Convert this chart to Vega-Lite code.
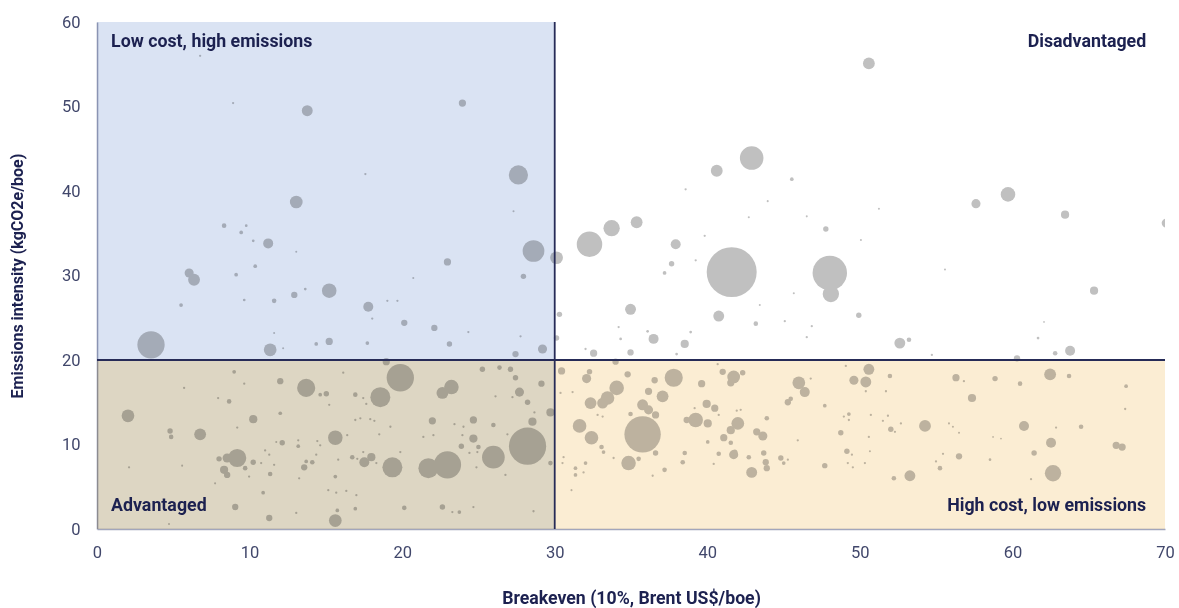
{
  "$schema": "https://vega.github.io/schema/vega-lite/v6.json",
  "autosize": {"type": "none"},
  "width": 1068,
  "height": 507,
  "padding": {"left": 97, "top": 22, "right": 14, "bottom": 79},
  "background": "white",
  "config": {
    "view": {"stroke": null},
    "font": "Roboto",
    "axis": {
      "grid": false,
      "ticks": false,
      "labelFlush": false,
      "domainColor": "#a2a6bc",
      "domainWidth": 1.6,
      "labelColor": "#41476b",
      "labelFont": "Roboto",
      "labelFontSize": 16.5,
      "titleColor": "#1c2150",
      "titleFont": "Roboto",
      "titleFontWeight": "bold"
    }
  },
  "datasets": {
    "fields": [
      {"breakeven": 6.76, "intensity": 56.0, "volume": 0.5},
      {"breakeven": 8.92, "intensity": 50.4, "volume": 0.5},
      {"breakeven": 13.78, "intensity": 49.5, "volume": 11.3},
      {"breakeven": 17.59, "intensity": 42.0, "volume": 0.5},
      {"breakeven": 13.06, "intensity": 38.7, "volume": 15.4},
      {"breakeven": 23.95, "intensity": 50.4, "volume": 5},
      {"breakeven": 27.62, "intensity": 41.9, "volume": 35},
      {"breakeven": 8.33, "intensity": 35.9, "volume": 2},
      {"breakeven": 9.45, "intensity": 35.1, "volume": 1.3},
      {"breakeven": 9.78, "intensity": 35.9, "volume": 0.7},
      {"breakeven": 10.24, "intensity": 34.1, "volume": 0.7},
      {"breakeven": 11.22, "intensity": 33.8, "volume": 9.5},
      {"breakeven": 13.06, "intensity": 32.8, "volume": 0.4},
      {"breakeven": 6.04, "intensity": 30.3, "volume": 7.9},
      {"breakeven": 6.36, "intensity": 29.5, "volume": 13.3},
      {"breakeven": 9.12, "intensity": 30.1, "volume": 1.3},
      {"breakeven": 10.37, "intensity": 31.1, "volume": 1.3},
      {"breakeven": 5.51, "intensity": 26.5, "volume": 1.3},
      {"breakeven": 9.65, "intensity": 27.1, "volume": 0.7},
      {"breakeven": 11.61, "intensity": 27.0, "volume": 2},
      {"breakeven": 12.93, "intensity": 27.7, "volume": 3.8},
      {"breakeven": 13.65, "intensity": 28.4, "volume": 0.7},
      {"breakeven": 15.22, "intensity": 28.2, "volume": 20.1},
      {"breakeven": 17.78, "intensity": 26.3, "volume": 9.5},
      {"breakeven": 19.03, "intensity": 27.0, "volume": 0.5},
      {"breakeven": 19.69, "intensity": 27.0, "volume": 0.5},
      {"breakeven": 18.04, "intensity": 24.9, "volume": 0.5},
      {"breakeven": 3.54, "intensity": 21.8, "volume": 71},
      {"breakeven": 11.35, "intensity": 21.2, "volume": 15.4},
      {"breakeven": 11.61, "intensity": 23.2, "volume": 0.4},
      {"breakeven": 12.2, "intensity": 21.4, "volume": 0.4},
      {"breakeven": 14.37, "intensity": 21.9, "volume": 1.3},
      {"breakeven": 15.22, "intensity": 22.2, "volume": 5},
      {"breakeven": 17.72, "intensity": 22.0, "volume": 1.3},
      {"breakeven": 18.96, "intensity": 19.8, "volume": 5},
      {"breakeven": 27.3, "intensity": 37.6, "volume": 0.4},
      {"breakeven": 22.97, "intensity": 31.6, "volume": 5},
      {"breakeven": 20.73, "intensity": 29.7, "volume": 0.4},
      {"breakeven": 28.61, "intensity": 32.9, "volume": 45},
      {"breakeven": 30.12, "intensity": 32.1, "volume": 15.4},
      {"breakeven": 27.95, "intensity": 29.9, "volume": 2.8},
      {"breakeven": 30.31, "intensity": 25.4, "volume": 2.8},
      {"breakeven": 30.12, "intensity": 22.6, "volume": 2.8},
      {"breakeven": 20.14, "intensity": 24.4, "volume": 3.8},
      {"breakeven": 22.11, "intensity": 23.8, "volume": 3.8},
      {"breakeven": 24.34, "intensity": 23.3, "volume": 0.5},
      {"breakeven": 23.1, "intensity": 21.9, "volume": 2.8},
      {"breakeven": 27.76, "intensity": 22.8, "volume": 0.5},
      {"breakeven": 27.43, "intensity": 20.7, "volume": 3.8},
      {"breakeven": 29.2, "intensity": 21.3, "volume": 7.9},
      {"breakeven": 32.28, "intensity": 33.7, "volume": 62},
      {"breakeven": 33.73, "intensity": 35.6, "volume": 25.4},
      {"breakeven": 35.37, "intensity": 36.3, "volume": 13.3},
      {"breakeven": 37.93, "intensity": 33.7, "volume": 9.5},
      {"breakeven": 37.66, "intensity": 31.4, "volume": 2.8},
      {"breakeven": 37.2, "intensity": 30.3, "volume": 1.3},
      {"breakeven": 39.83, "intensity": 34.7, "volume": 0.5},
      {"breakeven": 39.24, "intensity": 31.8, "volume": 0.5},
      {"breakeven": 42.72, "intensity": 36.9, "volume": 0.4},
      {"breakeven": 43.96, "intensity": 38.8, "volume": 0.4},
      {"breakeven": 41.6, "intensity": 30.4, "volume": 238},
      {"breakeven": 45.67, "intensity": 27.9, "volume": 0.4},
      {"breakeven": 43.44, "intensity": 26.5, "volume": 0.4},
      {"breakeven": 40.75, "intensity": 25.2, "volume": 11.3},
      {"breakeven": 43.18, "intensity": 24.3, "volume": 2},
      {"breakeven": 45.08, "intensity": 24.6, "volume": 0.5},
      {"breakeven": 34.97, "intensity": 26.0, "volume": 11.3},
      {"breakeven": 34.19, "intensity": 23.9, "volume": 0.5},
      {"breakeven": 36.09, "intensity": 23.4, "volume": 0.7},
      {"breakeven": 36.48, "intensity": 22.5, "volume": 9.5},
      {"breakeven": 34.32, "intensity": 22.5, "volume": 0.7},
      {"breakeven": 38.91, "intensity": 23.3, "volume": 0.7},
      {"breakeven": 38.52, "intensity": 21.9, "volume": 6.4},
      {"breakeven": 37.99, "intensity": 20.7, "volume": 0.7},
      {"breakeven": 34.97, "intensity": 20.9, "volume": 3.8},
      {"breakeven": 32.55, "intensity": 20.8, "volume": 5},
      {"breakeven": 32.02, "intensity": 21.3, "volume": 0.5},
      {"breakeven": 33.99, "intensity": 19.8, "volume": 3.8},
      {"breakeven": 40.62, "intensity": 42.4, "volume": 13.3},
      {"breakeven": 42.91, "intensity": 43.9, "volume": 53},
      {"breakeven": 45.54, "intensity": 41.4, "volume": 1.3},
      {"breakeven": 38.58, "intensity": 40.2, "volume": 0.5},
      {"breakeven": 50.59, "intensity": 55.1, "volume": 13.3},
      {"breakeven": 59.71, "intensity": 39.6, "volume": 20.1},
      {"breakeven": 57.61, "intensity": 38.5, "volume": 7.9},
      {"breakeven": 63.45, "intensity": 37.2, "volume": 6.4},
      {"breakeven": 70.08, "intensity": 36.2, "volume": 7.9},
      {"breakeven": 46.52, "intensity": 37.0, "volume": 0.4},
      {"breakeven": 51.25, "intensity": 37.9, "volume": 0.4},
      {"breakeven": 47.77, "intensity": 35.5, "volume": 2.8},
      {"breakeven": 50.07, "intensity": 34.2, "volume": 0.4},
      {"breakeven": 48.03, "intensity": 30.3, "volume": 113},
      {"breakeven": 48.1, "intensity": 27.8, "volume": 25.4},
      {"breakeven": 55.58, "intensity": 30.7, "volume": 0.4},
      {"breakeven": 65.35, "intensity": 28.2, "volume": 6.4},
      {"breakeven": 49.93, "intensity": 25.3, "volume": 2.8},
      {"breakeven": 46.85, "intensity": 24.0, "volume": 0.5},
      {"breakeven": 46.52, "intensity": 22.7, "volume": 0.5},
      {"breakeven": 52.62, "intensity": 22.0, "volume": 11.3},
      {"breakeven": 53.22, "intensity": 22.4, "volume": 2},
      {"breakeven": 54.72, "intensity": 20.6, "volume": 0.5},
      {"breakeven": 62.07, "intensity": 24.5, "volume": 0.3},
      {"breakeven": 61.68, "intensity": 22.6, "volume": 0.7},
      {"breakeven": 60.3, "intensity": 20.2, "volume": 3.8},
      {"breakeven": 62.8, "intensity": 20.8, "volume": 2},
      {"breakeven": 63.78, "intensity": 21.1, "volume": 9.5},
      {"breakeven": 8.99, "intensity": 18.6, "volume": 1.3},
      {"breakeven": 12.01, "intensity": 17.5, "volume": 3.8},
      {"breakeven": 13.71, "intensity": 16.7, "volume": 31.4},
      {"breakeven": 14.63, "intensity": 15.9, "volume": 1.3},
      {"breakeven": 15.03, "intensity": 16.0, "volume": 2.8},
      {"breakeven": 16.14, "intensity": 18.5, "volume": 0.5},
      {"breakeven": 16.93, "intensity": 15.9, "volume": 2},
      {"breakeven": 17.45, "intensity": 15.5, "volume": 0.5},
      {"breakeven": 17.65, "intensity": 14.8, "volume": 0.5},
      {"breakeven": 18.57, "intensity": 15.6, "volume": 38},
      {"breakeven": 19.88, "intensity": 17.9, "volume": 71},
      {"breakeven": 5.71, "intensity": 16.7, "volume": 0.5},
      {"breakeven": 9.65, "intensity": 17.2, "volume": 0.5},
      {"breakeven": 7.94, "intensity": 15.5, "volume": 0.5},
      {"breakeven": 8.66, "intensity": 15.1, "volume": 2},
      {"breakeven": 2.03, "intensity": 13.4, "volume": 15.4},
      {"breakeven": 10.24, "intensity": 13.0, "volume": 6.4},
      {"breakeven": 12.01, "intensity": 13.7, "volume": 1.3},
      {"breakeven": 9.19, "intensity": 12.0, "volume": 0.5},
      {"breakeven": 4.79, "intensity": 11.6, "volume": 2.8},
      {"breakeven": 4.86, "intensity": 10.9, "volume": 2},
      {"breakeven": 6.76, "intensity": 11.2, "volume": 13.3},
      {"breakeven": 15.22, "intensity": 14.7, "volume": 0.5},
      {"breakeven": 15.62, "intensity": 10.8, "volume": 20.1},
      {"breakeven": 16.93, "intensity": 12.9, "volume": 0.5},
      {"breakeven": 17.26, "intensity": 13.1, "volume": 0.5},
      {"breakeven": 17.91, "intensity": 13.0, "volume": 0.5},
      {"breakeven": 18.18, "intensity": 12.8, "volume": 0.5},
      {"breakeven": 19.23, "intensity": 12.1, "volume": 0.5},
      {"breakeven": 18.5, "intensity": 11.2, "volume": 0.5},
      {"breakeven": 9.19, "intensity": 8.4, "volume": 31.4},
      {"breakeven": 8.53, "intensity": 8.4, "volume": 7.9},
      {"breakeven": 8.0, "intensity": 8.3, "volume": 2.8},
      {"breakeven": 10.24, "intensity": 7.9, "volume": 2.8},
      {"breakeven": 8.33, "intensity": 7.0, "volume": 6.4},
      {"breakeven": 8.53, "intensity": 6.4, "volume": 3.8},
      {"breakeven": 9.71, "intensity": 7.2, "volume": 2},
      {"breakeven": 9.97, "intensity": 6.2, "volume": 0.5},
      {"breakeven": 10.76, "intensity": 7.8, "volume": 0.5},
      {"breakeven": 11.02, "intensity": 9.3, "volume": 0.5},
      {"breakeven": 11.29, "intensity": 8.8, "volume": 0.5},
      {"breakeven": 11.61, "intensity": 7.6, "volume": 0.5},
      {"breakeven": 11.35, "intensity": 6.5, "volume": 2},
      {"breakeven": 12.14, "intensity": 10.2, "volume": 2.8},
      {"breakeven": 11.75, "intensity": 10.3, "volume": 0.4},
      {"breakeven": 13.19, "intensity": 10.5, "volume": 0.5},
      {"breakeven": 13.19, "intensity": 9.8, "volume": 1.3},
      {"breakeven": 13.71, "intensity": 8.0, "volume": 1.3},
      {"breakeven": 14.11, "intensity": 7.9, "volume": 2},
      {"breakeven": 13.58, "intensity": 7.3, "volume": 3.8},
      {"breakeven": 13.25, "intensity": 6.0, "volume": 0.5},
      {"breakeven": 14.44, "intensity": 10.4, "volume": 0.5},
      {"breakeven": 14.63, "intensity": 9.9, "volume": 0.5},
      {"breakeven": 14.37, "intensity": 8.8, "volume": 0.5},
      {"breakeven": 16.4, "intensity": 11.1, "volume": 0.5},
      {"breakeven": 15.62, "intensity": 6.2, "volume": 1.3},
      {"breakeven": 15.81, "intensity": 8.2, "volume": 0.5},
      {"breakeven": 16.73, "intensity": 8.5, "volume": 2},
      {"breakeven": 17.06, "intensity": 8.3, "volume": 0.5},
      {"breakeven": 17.45, "intensity": 9.1, "volume": 0.5},
      {"breakeven": 17.52, "intensity": 7.9, "volume": 9.5},
      {"breakeven": 17.98, "intensity": 8.5, "volume": 6.4},
      {"breakeven": 18.31, "intensity": 7.8, "volume": 0.5},
      {"breakeven": 19.36, "intensity": 7.3, "volume": 38},
      {"breakeven": 2.1, "intensity": 7.3, "volume": 0.5},
      {"breakeven": 5.58, "intensity": 7.5, "volume": 0.4},
      {"breakeven": 7.74, "intensity": 5.4, "volume": 0.4},
      {"breakeven": 9.06, "intensity": 2.6, "volume": 3.8},
      {"breakeven": 10.89, "intensity": 4.3, "volume": 1.3},
      {"breakeven": 11.29, "intensity": 1.3, "volume": 3.8},
      {"breakeven": 13.06, "intensity": 1.9, "volume": 0.5},
      {"breakeven": 15.16, "intensity": 4.6, "volume": 0.5},
      {"breakeven": 15.68, "intensity": 4.3, "volume": 0.5},
      {"breakeven": 16.34, "intensity": 4.5, "volume": 0.5},
      {"breakeven": 17.0, "intensity": 4.0, "volume": 0.5},
      {"breakeven": 15.75, "intensity": 2.2, "volume": 1.3},
      {"breakeven": 16.93, "intensity": 2.4, "volume": 1.3},
      {"breakeven": 15.62, "intensity": 1.0, "volume": 15.4},
      {"breakeven": 4.72, "intensity": 0.6, "volume": 0.4},
      {"breakeven": 23.23, "intensity": 16.8, "volume": 20.1},
      {"breakeven": 22.64, "intensity": 16.1, "volume": 13.3},
      {"breakeven": 25.26, "intensity": 18.9, "volume": 2.8},
      {"breakeven": 26.38, "intensity": 19.1, "volume": 2},
      {"breakeven": 27.1, "intensity": 18.9, "volume": 2.8},
      {"breakeven": 27.43, "intensity": 17.9, "volume": 2.8},
      {"breakeven": 29.13, "intensity": 17.2, "volume": 3.8},
      {"breakeven": 27.69, "intensity": 16.2, "volume": 7.9},
      {"breakeven": 28.22, "intensity": 15.0, "volume": 2.8},
      {"breakeven": 26.12, "intensity": 15.7, "volume": 0.5},
      {"breakeven": 27.23, "intensity": 15.6, "volume": 0.5},
      {"breakeven": 29.72, "intensity": 13.8, "volume": 6.4},
      {"breakeven": 28.67, "intensity": 13.8, "volume": 0.5},
      {"breakeven": 28.54, "intensity": 12.7, "volume": 6.4},
      {"breakeven": 21.98, "intensity": 12.8, "volume": 5},
      {"breakeven": 23.43, "intensity": 12.4, "volume": 0.5},
      {"breakeven": 24.02, "intensity": 12.1, "volume": 0.5},
      {"breakeven": 24.67, "intensity": 12.9, "volume": 5},
      {"breakeven": 25.98, "intensity": 12.3, "volume": 2},
      {"breakeven": 28.22, "intensity": 9.8, "volume": 132},
      {"breakeven": 26.9, "intensity": 11.2, "volume": 0.5},
      {"breakeven": 24.67, "intensity": 10.7, "volume": 6.4},
      {"breakeven": 23.95, "intensity": 11.1, "volume": 0.5},
      {"breakeven": 23.88, "intensity": 9.8, "volume": 2.8},
      {"breakeven": 25.0, "intensity": 9.7, "volume": 2},
      {"breakeven": 24.93, "intensity": 9.1, "volume": 0.5},
      {"breakeven": 24.41, "intensity": 9.0, "volume": 0.5},
      {"breakeven": 25.98, "intensity": 8.5, "volume": 49},
      {"breakeven": 22.97, "intensity": 7.6, "volume": 71},
      {"breakeven": 21.72, "intensity": 7.2, "volume": 38},
      {"breakeven": 19.88, "intensity": 9.1, "volume": 0.5},
      {"breakeven": 21.39, "intensity": 10.9, "volume": 0.5},
      {"breakeven": 22.05, "intensity": 11.1, "volume": 0.5},
      {"breakeven": 24.87, "intensity": 7.3, "volume": 0.5},
      {"breakeven": 26.77, "intensity": 6.4, "volume": 0.5},
      {"breakeven": 29.72, "intensity": 7.8, "volume": 2},
      {"breakeven": 20.14, "intensity": 2.5, "volume": 2},
      {"breakeven": 22.64, "intensity": 2.6, "volume": 2.8},
      {"breakeven": 23.29, "intensity": 2.0, "volume": 0.5},
      {"breakeven": 23.75, "intensity": 2.0, "volume": 1.3},
      {"breakeven": 24.67, "intensity": 2.6, "volume": 0.5},
      {"breakeven": 28.61, "intensity": 2.1, "volume": 0.5},
      {"breakeven": 30.45, "intensity": 18.7, "volume": 5},
      {"breakeven": 30.38, "intensity": 16.1, "volume": 0.5},
      {"breakeven": 31.17, "intensity": 16.2, "volume": 0.5},
      {"breakeven": 32.28, "intensity": 18.6, "volume": 2.8},
      {"breakeven": 32.09, "intensity": 17.8, "volume": 7.9},
      {"breakeven": 34.06, "intensity": 16.7, "volume": 20.1},
      {"breakeven": 33.46, "intensity": 15.5, "volume": 17.7},
      {"breakeven": 32.35, "intensity": 14.9, "volume": 13.3},
      {"breakeven": 33.14, "intensity": 14.9, "volume": 11.3},
      {"breakeven": 34.78, "intensity": 18.3, "volume": 3.8},
      {"breakeven": 36.55, "intensity": 17.6, "volume": 3.8},
      {"breakeven": 36.15, "intensity": 16.3, "volume": 5},
      {"breakeven": 37.07, "intensity": 15.7, "volume": 13.3},
      {"breakeven": 37.8, "intensity": 17.9, "volume": 31.4},
      {"breakeven": 35.76, "intensity": 14.7, "volume": 11.3},
      {"breakeven": 35.76, "intensity": 11.2, "volume": 126},
      {"breakeven": 36.61, "intensity": 13.5, "volume": 5},
      {"breakeven": 34.97, "intensity": 13.6, "volume": 2},
      {"breakeven": 36.15, "intensity": 14.1, "volume": 7.9},
      {"breakeven": 32.81, "intensity": 13.5, "volume": 0.5},
      {"breakeven": 33.14, "intensity": 13.3, "volume": 0.5},
      {"breakeven": 31.63, "intensity": 12.2, "volume": 17.7},
      {"breakeven": 32.41, "intensity": 10.8, "volume": 17.7},
      {"breakeven": 33.07, "intensity": 9.7, "volume": 2},
      {"breakeven": 33.2, "intensity": 9.1, "volume": 1.3},
      {"breakeven": 33.86, "intensity": 8.4, "volume": 0.5},
      {"breakeven": 34.84, "intensity": 7.8, "volume": 20.1},
      {"breakeven": 35.5, "intensity": 8.3, "volume": 2},
      {"breakeven": 36.61, "intensity": 9.0, "volume": 2.8},
      {"breakeven": 37.2, "intensity": 7.0, "volume": 2},
      {"breakeven": 36.42, "intensity": 6.3, "volume": 0.5},
      {"breakeven": 38.65, "intensity": 12.9, "volume": 3.8},
      {"breakeven": 38.52, "intensity": 9.0, "volume": 2},
      {"breakeven": 38.39, "intensity": 7.9, "volume": 2},
      {"breakeven": 32.02, "intensity": 7.8, "volume": 1.3},
      {"breakeven": 31.36, "intensity": 7.2, "volume": 1.3},
      {"breakeven": 31.89, "intensity": 6.7, "volume": 0.5},
      {"breakeven": 31.36, "intensity": 6.4, "volume": 1.3},
      {"breakeven": 30.58, "intensity": 8.5, "volume": 0.5},
      {"breakeven": 30.51, "intensity": 7.8, "volume": 0.5},
      {"breakeven": 31.1, "intensity": 4.6, "volume": 0.4},
      {"breakeven": 39.63, "intensity": 17.2, "volume": 5},
      {"breakeven": 41.01, "intensity": 18.6, "volume": 3.8},
      {"breakeven": 41.73, "intensity": 18.0, "volume": 15.4},
      {"breakeven": 42.32, "intensity": 18.5, "volume": 2.8},
      {"breakeven": 41.54, "intensity": 17.3, "volume": 5},
      {"breakeven": 40.68, "intensity": 19.5, "volume": 0.5},
      {"breakeven": 46.0, "intensity": 17.3, "volume": 15.4},
      {"breakeven": 46.39, "intensity": 16.2, "volume": 9.5},
      {"breakeven": 46.78, "intensity": 17.8, "volume": 0.5},
      {"breakeven": 49.08, "intensity": 19.3, "volume": 0.5},
      {"breakeven": 50.59, "intensity": 18.9, "volume": 11.3},
      {"breakeven": 49.61, "intensity": 17.6, "volume": 7.9},
      {"breakeven": 50.39, "intensity": 17.4, "volume": 11.3},
      {"breakeven": 50.39, "intensity": 16.3, "volume": 0.5},
      {"breakeven": 51.97, "intensity": 18.1, "volume": 2},
      {"breakeven": 51.71, "intensity": 16.3, "volume": 0.5},
      {"breakeven": 56.3, "intensity": 17.9, "volume": 5},
      {"breakeven": 56.82, "intensity": 17.5, "volume": 0.5},
      {"breakeven": 57.35, "intensity": 15.5, "volume": 6.4},
      {"breakeven": 58.86, "intensity": 17.8, "volume": 2.8},
      {"breakeven": 60.5, "intensity": 17.2, "volume": 2},
      {"breakeven": 62.47, "intensity": 18.3, "volume": 13.3},
      {"breakeven": 63.71, "intensity": 18.1, "volume": 2},
      {"breakeven": 67.45, "intensity": 16.9, "volume": 1.3},
      {"breakeven": 67.39, "intensity": 14.2, "volume": 0.5},
      {"breakeven": 39.96, "intensity": 14.8, "volume": 6.4},
      {"breakeven": 40.49, "intensity": 14.3, "volume": 5},
      {"breakeven": 39.17, "intensity": 14.3, "volume": 0.5},
      {"breakeven": 39.24, "intensity": 12.9, "volume": 20.1},
      {"breakeven": 40.03, "intensity": 12.5, "volume": 6.4},
      {"breakeven": 40.75, "intensity": 13.5, "volume": 0.5},
      {"breakeven": 41.93, "intensity": 14.0, "volume": 0.5},
      {"breakeven": 42.19, "intensity": 14.1, "volume": 0.5},
      {"breakeven": 42.0, "intensity": 12.5, "volume": 15.4},
      {"breakeven": 41.54, "intensity": 11.7, "volume": 6.4},
      {"breakeven": 41.08, "intensity": 10.8, "volume": 5},
      {"breakeven": 41.54, "intensity": 10.2, "volume": 2},
      {"breakeven": 40.03, "intensity": 10.3, "volume": 1.3},
      {"breakeven": 43.24, "intensity": 11.5, "volume": 5},
      {"breakeven": 43.64, "intensity": 11.0, "volume": 7.9},
      {"breakeven": 43.9, "intensity": 13.1, "volume": 2},
      {"breakeven": 45.28, "intensity": 15.0, "volume": 3.8},
      {"breakeven": 45.47, "intensity": 15.4, "volume": 2},
      {"breakeven": 47.7, "intensity": 14.6, "volume": 1.3},
      {"breakeven": 45.93, "intensity": 10.5, "volume": 0.5},
      {"breakeven": 40.75, "intensity": 8.9, "volume": 2},
      {"breakeven": 40.42, "intensity": 7.7, "volume": 0.5},
      {"breakeven": 41.73, "intensity": 8.8, "volume": 7.9},
      {"breakeven": 41.8, "intensity": 9.1, "volume": 2.8},
      {"breakeven": 42.72, "intensity": 8.5, "volume": 2},
      {"breakeven": 42.91, "intensity": 6.7, "volume": 11.3},
      {"breakeven": 43.7, "intensity": 9.0, "volume": 2.8},
      {"breakeven": 43.83, "intensity": 7.9, "volume": 3.8},
      {"breakeven": 43.9, "intensity": 7.2, "volume": 3.8},
      {"breakeven": 44.82, "intensity": 8.4, "volume": 2.8},
      {"breakeven": 45.01, "intensity": 7.8, "volume": 1.3},
      {"breakeven": 45.28, "intensity": 8.2, "volume": 0.5},
      {"breakeven": 48.95, "intensity": 13.3, "volume": 0.5},
      {"breakeven": 49.28, "intensity": 13.6, "volume": 1.3},
      {"breakeven": 49.28, "intensity": 12.9, "volume": 0.5},
      {"breakeven": 50.72, "intensity": 13.5, "volume": 0.5},
      {"breakeven": 51.51, "intensity": 12.8, "volume": 0.5},
      {"breakeven": 51.84, "intensity": 13.4, "volume": 0.5},
      {"breakeven": 52.03, "intensity": 11.8, "volume": 2.8},
      {"breakeven": 52.3, "intensity": 11.5, "volume": 0.5},
      {"breakeven": 52.69, "intensity": 12.5, "volume": 0.5},
      {"breakeven": 54.27, "intensity": 12.2, "volume": 13.3},
      {"breakeven": 55.84, "intensity": 12.5, "volume": 0.4},
      {"breakeven": 56.1, "intensity": 12.1, "volume": 0.4},
      {"breakeven": 56.5, "intensity": 11.4, "volume": 0.4},
      {"breakeven": 48.75, "intensity": 11.4, "volume": 2.8},
      {"breakeven": 50.59, "intensity": 10.9, "volume": 0.5},
      {"breakeven": 49.15, "intensity": 9.2, "volume": 2.8},
      {"breakeven": 49.48, "intensity": 8.8, "volume": 0.5},
      {"breakeven": 47.7, "intensity": 7.5, "volume": 2.8},
      {"breakeven": 49.21, "intensity": 7.8, "volume": 0.5},
      {"breakeven": 49.54, "intensity": 7.3, "volume": 0.5},
      {"breakeven": 50.33, "intensity": 7.8, "volume": 0.5},
      {"breakeven": 50.66, "intensity": 9.2, "volume": 0.4},
      {"breakeven": 52.23, "intensity": 6.0, "volume": 2},
      {"breakeven": 53.28, "intensity": 6.3, "volume": 11.3},
      {"breakeven": 54.99, "intensity": 8.0, "volume": 0.5},
      {"breakeven": 55.25, "intensity": 7.2, "volume": 2},
      {"breakeven": 55.45, "intensity": 8.9, "volume": 0.5},
      {"breakeven": 56.5, "intensity": 8.6, "volume": 3.8},
      {"breakeven": 58.53, "intensity": 8.2, "volume": 0.7},
      {"breakeven": 59.25, "intensity": 10.7, "volume": 0.3},
      {"breakeven": 58.73, "intensity": 10.9, "volume": 0.3},
      {"breakeven": 60.76, "intensity": 12.2, "volume": 9.5},
      {"breakeven": 62.86, "intensity": 12.0, "volume": 0.5},
      {"breakeven": 64.5, "intensity": 12.1, "volume": 2},
      {"breakeven": 62.53, "intensity": 10.2, "volume": 9.5},
      {"breakeven": 61.42, "intensity": 9.0, "volume": 2.8},
      {"breakeven": 66.8, "intensity": 9.9, "volume": 5},
      {"breakeven": 67.19, "intensity": 9.7, "volume": 5},
      {"breakeven": 62.66, "intensity": 6.6, "volume": 25.4},
      {"breakeven": 61.22, "intensity": 5.9, "volume": 0.5}
    ],
    "quadrants": [
      {"quadrant": "Low cost, high emissions", "xa": 0, "xb": 30, "ya": 20, "yb": 60},
      {"quadrant": "Advantaged", "xa": 0, "xb": 30, "ya": 0, "yb": 20},
      {"quadrant": "High cost, low emissions", "xa": 30, "xb": 70, "ya": 0, "yb": 20}
    ],
    "dividers": [
      {"xa": 30, "xb": 30, "ya": 0, "yb": 60},
      {"xa": 0, "xb": 70, "ya": 20, "yb": 20}
    ],
    "labelsLeft": [
      {"label": "Low cost, high emissions", "lx": 0.92, "ly": 57.6},
      {"label": "Advantaged", "lx": 0.92, "ly": 2.72}
    ],
    "labelsRight": [
      {"label": "Disadvantaged", "lx": 68.77, "ly": 57.6},
      {"label": "High cost, low emissions", "lx": 68.77, "ly": 2.72}
    ]
  },
  "layer": [
    {
      "data": {"name": "fields"},
      "mark": {"type": "circle", "fill": "#c0c0c0", "opacity": 1, "clip": true},
      "encoding": {
        "x": {"field": "breakeven", "type": "quantitative", "title": "Breakeven (10%, Brent US$/boe)",
              "scale": {"domain": [0, 70], "nice": false, "zero": false},
              "axis": {"values": [0, 10, 20, 30, 40, 50, 60, 70], "labelPadding": 15, "titleFontSize": 17.7, "titleY": 60, "titleBaseline": "top"}},
        "y": {"field": "intensity", "type": "quantitative", "title": "Emissions intensity (kgCO2e/boe)",
              "scale": {"domain": [0, 60], "nice": false, "zero": false},
              "axis": {"values": [0, 10, 20, 30, 40, 50, 60], "labelPadding": 17, "titleFontSize": 16, "titleX": -72}},
        "size": {"field": "volume", "type": "quantitative", "legend": null,
                 "scale": {"type": "linear", "domain": [0, 100], "range": [0, 1050], "zero": true}}
      }
    },
    {
      "data": {"name": "quadrants"},
      "mark": {"type": "rect", "blend": "multiply"},
      "encoding": {
        "x": {"field": "xa", "type": "quantitative", "title": "Breakeven (10%, Brent US$/boe)"},
        "x2": {"field": "xb"},
        "y": {"field": "ya", "type": "quantitative", "title": "Emissions intensity (kgCO2e/boe)"},
        "y2": {"field": "yb"},
        "color": {"field": "quadrant", "type": "nominal", "legend": null,
                  "scale": {"domain": ["Low cost, high emissions", "Advantaged", "High cost, low emissions"],
                            "range": ["#dae3f3", "#ddd6c3", "#fbedd3"]}}
      }
    },
    {
      "data": {"name": "dividers"},
      "mark": {"type": "rule", "color": "#262b57", "strokeWidth": 1.8},
      "encoding": {
        "x": {"field": "xa", "type": "quantitative", "title": "Breakeven (10%, Brent US$/boe)"},
        "x2": {"field": "xb"},
        "y": {"field": "ya", "type": "quantitative", "title": "Emissions intensity (kgCO2e/boe)"},
        "y2": {"field": "yb"}
      }
    },
    {
      "data": {"name": "labelsLeft"},
      "mark": {"type": "text", "align": "left", "baseline": "middle", "font": "Roboto", "fontWeight": "bold", "fontSize": 17.8, "color": "#1c2150"},
      "encoding": {
        "x": {"field": "lx", "type": "quantitative", "title": "Breakeven (10%, Brent US$/boe)"},
        "y": {"field": "ly", "type": "quantitative", "title": "Emissions intensity (kgCO2e/boe)"},
        "text": {"field": "label"}
      }
    },
    {
      "data": {"name": "labelsRight"},
      "mark": {"type": "text", "align": "right", "baseline": "middle", "font": "Roboto", "fontWeight": "bold", "fontSize": 17.8, "color": "#1c2150"},
      "encoding": {
        "x": {"field": "lx", "type": "quantitative", "title": "Breakeven (10%, Brent US$/boe)"},
        "y": {"field": "ly", "type": "quantitative", "title": "Emissions intensity (kgCO2e/boe)"},
        "text": {"field": "label"}
      }
    }
  ]
}
